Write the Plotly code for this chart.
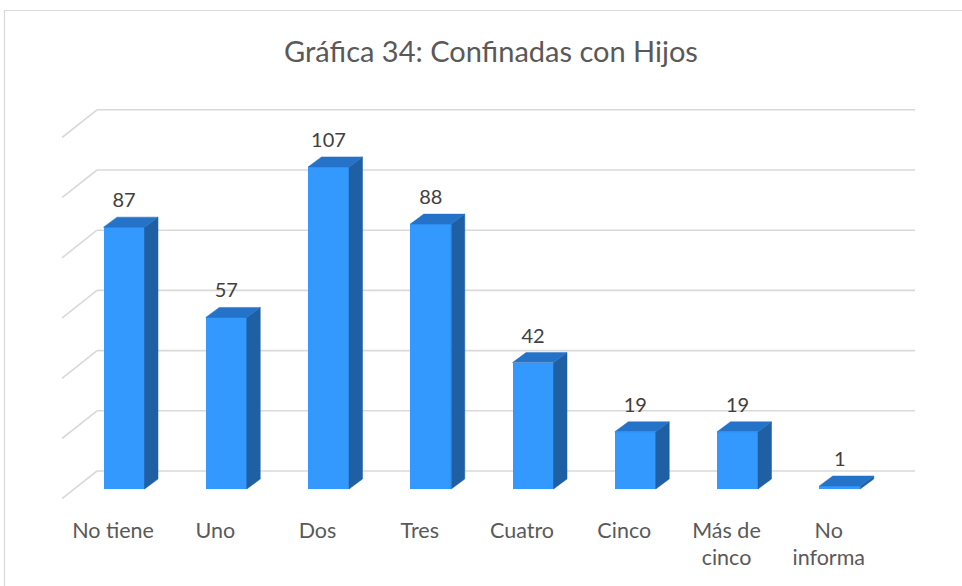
import plotly.graph_objects as go

# ---- data ----
categories = ["No tiene", "Uno", "Dos", "Tres", "Cuatro", "Cinco", "Más de<br>cinco", "No<br>informa"]
values = [87, 57, 107, 88, 42, 19, 19, 1]
grid_values = [0, 20, 40, 60, 80, 100, 120]
title_text = "Gráfica 34: Confinadas con Hijos"

# ---- geometry (pixel-based layout) ----
W, H = 962, 586
L, R, T, B = 40, 22, 90, 81
X0_PX, X_STEP = 124.0, 102.25   # front centre of first bar, category spacing
Y0_PX, Y_UNIT = 489.0, 3.01     # floor of bars, px per value unit

def xd(px):
    return (px - X0_PX) / X_STEP

pw = W - L - R
ph = H - T - B
x_range = [(L - X0_PX) / X_STEP, (L + pw - X0_PX) / X_STEP]
y_range = [(Y0_PX - (T + ph)) / Y_UNIT, (Y0_PX - T) / Y_UNIT]

half_w = 20.5 / X_STEP          # half bar width
dep_x = 13.5 / X_STEP           # bar depth (x)
dep_y = 10.0 / Y_UNIT           # bar depth (y)
wall_left = xd(97)
wall_right = xd(915)
wall_shift = 18.0 / Y_UNIT      # back wall raised relative to bar floor
floor_dx = -35.0 / X_STEP
floor_dy = -27.7 / Y_UNIT
label_shift = -11.0 / X_STEP

FRONT = "#3399FF"
SIDE = "#1F5FA3"
TOP = "#2473C8"
GRID = "#D9D9D9"
FONT = "Lato"

fig = go.Figure()

# back wall gridlines and floor diagonals (below traces)
for v in grid_values:
    yb = v + wall_shift
    fig.add_shape(type="line", xref="x", yref="y", x0=wall_left, x1=wall_right, y0=yb, y1=yb,
                  line=dict(color=GRID, width=1.6), layer="below")
    fig.add_shape(type="line", xref="x", yref="y", x0=wall_left, x1=wall_left + floor_dx,
                  y0=yb, y1=yb + floor_dy, line=dict(color=GRID, width=1.6), layer="below")

# 3D side and top faces
for i, v in enumerate(values):
    xr = i + half_w
    xl = i - half_w
    fig.add_trace(go.Scatter(
        x=[xr, xr + dep_x, xr + dep_x, xr, xr],
        y=[0, dep_y, v + dep_y, v, 0],
        fill="toself", fillcolor=SIDE, mode="lines", line=dict(width=0.5, color=SIDE),
        hoverinfo="skip", showlegend=False))
    fig.add_trace(go.Scatter(
        x=[xl, xr, xr + dep_x, xl + dep_x, xl],
        y=[v, v, v + dep_y, v + dep_y, v],
        fill="toself", fillcolor=TOP, mode="lines", line=dict(width=0.5, color=TOP),
        hoverinfo="skip", showlegend=False))

# front faces
fig.add_trace(go.Bar(x=list(range(len(values))), y=values, width=2 * half_w,
                     marker=dict(color=FRONT, line=dict(width=0)), showlegend=False,
                     hoverinfo="skip"))

# data labels
fig.add_trace(go.Scatter(x=list(range(len(values))), y=[v + 25 / Y_UNIT for v in values],
                         mode="text", text=[str(v) for v in values],
                         textfont=dict(family=FONT, size=20, color="#404040"),
                         textposition="middle center", showlegend=False, hoverinfo="skip",
                         cliponaxis=False))

# frame
fig.add_shape(type="rect", xref="paper", yref="paper",
              x0=(4.5 - L) / pw, x1=(W + 10 - L) / pw,
              y0=(H - (H + 20) - B) / ph, y1=(H - 10.5 - B) / ph,
              line=dict(color="#D9D9D9", width=1.2), layer="below")

fig.update_layout(
    width=W, height=H,
    margin=dict(l=L, r=R, t=T, b=B),
    paper_bgcolor="white", plot_bgcolor="white",
    title=dict(text=title_text, x=491 / W, xanchor="center", y=1 - 52 / H,
               yanchor="middle", xref="container", yref="container",
               font=dict(family=FONT, size=29, color="#595959")),
    xaxis=dict(range=x_range, showgrid=False, zeroline=False, showline=False,
               tickmode="array", tickvals=[i + label_shift for i in range(len(categories))],
               ticktext=categories, ticks="", ticklabelstandoff=10,
               tickfont=dict(family=FONT, size=21.5, color="#595959")),
    yaxis=dict(range=y_range, showgrid=False, zeroline=False, showline=False,
               showticklabels=False, ticks=""),
    bargap=0,
)

fig.write_html("out.html", config={"displayModeBar": False},
               post_script="document.body.style.margin='0';")
